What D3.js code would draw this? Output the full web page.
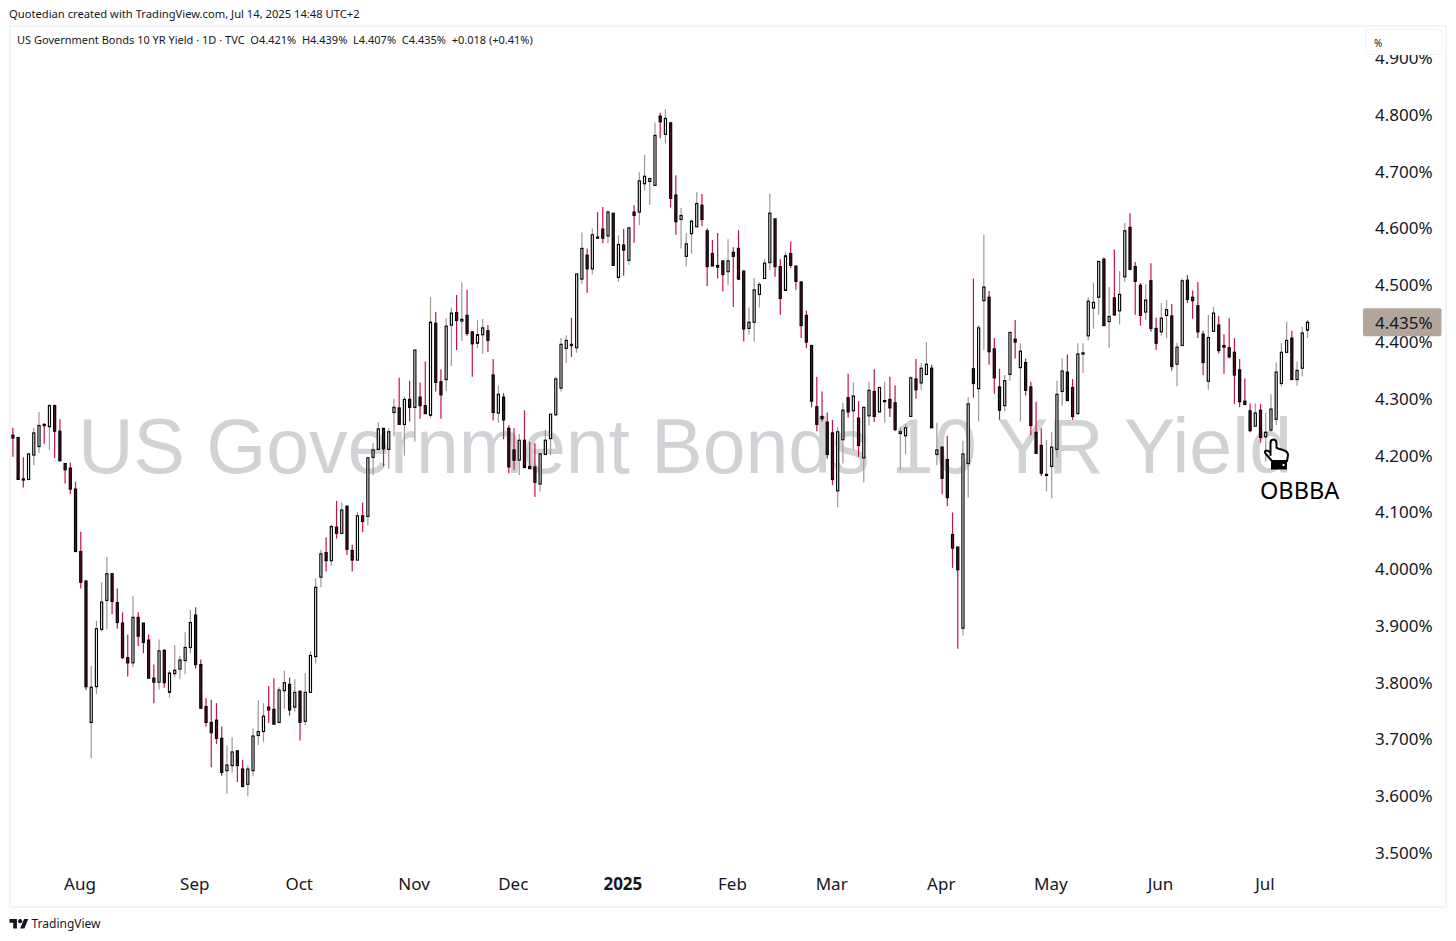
<!DOCTYPE html>
<html>
<head>
<meta charset="utf-8">
<title>US Government Bonds 10 YR Yield</title>
<script src="https://cdn.jsdelivr.net/npm/d3@7"></script>
<style>
  html, body { margin: 0; padding: 0; background: #fff; }
  svg { display: block; }
  text { font-family: "Noto Sans", sans-serif; fill: #131722; }
</style>
</head>
<body>
<svg id="chart" width="1456" height="941"></svg>
<script>
// Daily candles as [open, high, low, close], one array per month
const jul24 = [
  [4.236, 4.249, 4.198, 4.231], [4.232, 4.233, 4.157, 4.158], [4.159, 4.197, 4.144, 4.157], [4.158, 4.204, 4.157, 4.203],
  [4.201, 4.249, 4.183, 4.240], [4.216, 4.277, 4.205, 4.253], [4.255, 4.257, 4.221, 4.253], [4.251, 4.291, 4.210, 4.288],
  [4.288, 4.290, 4.196, 4.243], [4.243, 4.264, 4.191, 4.191], [4.186, 4.186, 4.151, 4.175], [4.178, 4.188, 4.132, 4.141],
  [4.141, 4.154, 4.031, 4.031],
];
const aug24 = [
  [4.031, 4.066, 3.966, 3.977], [3.979, 3.981, 3.787, 3.793], [3.730, 3.830, 3.667, 3.792], [3.793, 3.909, 3.780, 3.895],
  [3.894, 3.977, 3.890, 3.942], [3.945, 4.022, 3.894, 3.992], [3.992, 3.992, 3.921, 3.943], [3.941, 3.966, 3.895, 3.906],
  [3.905, 3.924, 3.842, 3.844], [3.844, 3.885, 3.811, 3.835], [3.835, 3.953, 3.827, 3.915], [3.915, 3.924, 3.864, 3.882],
  [3.905, 3.905, 3.852, 3.871], [3.875, 3.885, 3.807, 3.808], [3.808, 3.832, 3.764, 3.801], [3.801, 3.876, 3.788, 3.856],
  [3.857, 3.859, 3.791, 3.800], [3.783, 3.822, 3.774, 3.817], [3.816, 3.866, 3.810, 3.822], [3.824, 3.847, 3.806, 3.840],
  [3.839, 3.889, 3.815, 3.862], [3.862, 3.928, 3.852, 3.906],
];
const sep24 = [
  [3.919, 3.933, 3.825, 3.832], [3.832, 3.841, 3.754, 3.755], [3.758, 3.773, 3.723, 3.730], [3.730, 3.770, 3.651, 3.712],
  [3.734, 3.764, 3.692, 3.702], [3.702, 3.723, 3.636, 3.642], [3.645, 3.689, 3.605, 3.655], [3.654, 3.704, 3.642, 3.678],
  [3.680, 3.680, 3.625, 3.654], [3.648, 3.664, 3.616, 3.617], [3.621, 3.654, 3.600, 3.648], [3.645, 3.719, 3.635, 3.706],
  [3.707, 3.769, 3.690, 3.714], [3.714, 3.764, 3.696, 3.741], [3.757, 3.794, 3.729, 3.752], [3.753, 3.808, 3.726, 3.727],
  [3.730, 3.792, 3.729, 3.787], [3.786, 3.821, 3.754, 3.800], [3.797, 3.809, 3.742, 3.752], [3.757, 3.806, 3.749, 3.783],
];
const oct24 = [
  [3.785, 3.785, 3.698, 3.730], [3.732, 3.817, 3.725, 3.783], [3.783, 3.855, 3.783, 3.848], [3.846, 3.984, 3.834, 3.968],
  [3.986, 4.034, 3.968, 4.027], [4.029, 4.056, 3.996, 4.015], [4.015, 4.078, 4.006, 4.075], [4.074, 4.120, 4.054, 4.063],
  [4.063, 4.117, 4.062, 4.104], [4.111, 4.111, 4.025, 4.035], [4.033, 4.043, 3.996, 4.016], [4.016, 4.101, 4.016, 4.094],
  [4.094, 4.117, 4.065, 4.084], [4.093, 4.198, 4.077, 4.196], [4.197, 4.222, 4.166, 4.210], [4.211, 4.259, 4.210, 4.247],
  [4.248, 4.248, 4.181, 4.212], [4.211, 4.248, 4.177, 4.242], [4.276, 4.300, 4.234, 4.285], [4.284, 4.337, 4.255, 4.255],
  [4.255, 4.304, 4.200, 4.299], [4.299, 4.332, 4.260, 4.285],
];
const nov24 = [
  [4.285, 4.386, 4.225, 4.386], [4.303, 4.329, 4.265, 4.288], [4.288, 4.366, 4.274, 4.274], [4.271, 4.479, 4.266, 4.435],
  [4.433, 4.453, 4.313, 4.329], [4.330, 4.352, 4.265, 4.307], [4.334, 4.442, 4.314, 4.428], [4.430, 4.461, 4.358, 4.451],
  [4.452, 4.483, 4.386, 4.438], [4.437, 4.505, 4.402, 4.440], [4.447, 4.492, 4.411, 4.415], [4.418, 4.418, 4.339, 4.397],
  [4.398, 4.439, 4.389, 4.413], [4.413, 4.441, 4.379, 4.425], [4.420, 4.430, 4.383, 4.403], [4.342, 4.370, 4.262, 4.276],
  [4.275, 4.324, 4.258, 4.308], [4.303, 4.310, 4.229, 4.263], [4.248, 4.254, 4.169, 4.180],
];
const dec24 = [
  [4.210, 4.248, 4.175, 4.192], [4.192, 4.238, 4.166, 4.227], [4.227, 4.280, 4.178, 4.179], [4.181, 4.224, 4.177, 4.177],
  [4.180, 4.222, 4.127, 4.153], [4.150, 4.204, 4.137, 4.203], [4.202, 4.246, 4.201, 4.227], [4.230, 4.273, 4.201, 4.273],
  [4.272, 4.339, 4.270, 4.335], [4.319, 4.407, 4.313, 4.396], [4.389, 4.412, 4.363, 4.403], [4.396, 4.443, 4.374, 4.394],
  [4.390, 4.520, 4.381, 4.520], [4.511, 4.593, 4.502, 4.565], [4.553, 4.565, 4.487, 4.529], [4.529, 4.600, 4.519, 4.589],
  [4.585, 4.629, 4.583, 4.583], [4.599, 4.638, 4.574, 4.583], [4.587, 4.632, 4.574, 4.629], [4.627, 4.627, 4.535, 4.535],
  [4.514, 4.588, 4.506, 4.572],
];
const jan25 = [
  [4.571, 4.599, 4.517, 4.562], [4.544, 4.603, 4.536, 4.601], [4.629, 4.641, 4.575, 4.623], [4.629, 4.699, 4.606, 4.684],
  [4.679, 4.730, 4.667, 4.692], [4.683, 4.688, 4.642, 4.688], [4.676, 4.787, 4.676, 4.764], [4.798, 4.804, 4.759, 4.788],
  [4.766, 4.810, 4.750, 4.794], [4.786, 4.788, 4.637, 4.653], [4.659, 4.694, 4.589, 4.612], [4.616, 4.636, 4.565, 4.623],
  [4.551, 4.592, 4.533, 4.573], [4.591, 4.616, 4.556, 4.613], [4.603, 4.664, 4.603, 4.644], [4.641, 4.661, 4.604, 4.616],
  [4.596, 4.600, 4.499, 4.533], [4.556, 4.580, 4.534, 4.534], [4.535, 4.592, 4.512, 4.532], [4.543, 4.543, 4.489, 4.519],
  [4.524, 4.581, 4.501, 4.543],
];
const feb25 = [
  [4.558, 4.567, 4.462, 4.551], [4.565, 4.597, 4.509, 4.511], [4.525, 4.526, 4.401, 4.423], [4.424, 4.461, 4.413, 4.435],
  [4.435, 4.513, 4.401, 4.492], [4.484, 4.506, 4.461, 4.501], [4.512, 4.546, 4.512, 4.539], [4.540, 4.661, 4.527, 4.627],
  [4.617, 4.617, 4.515, 4.533], [4.533, 4.546, 4.448, 4.477], [4.491, 4.559, 4.491, 4.552], [4.556, 4.577, 4.530, 4.535],
  [4.534, 4.534, 4.492, 4.507], [4.506, 4.506, 4.407, 4.429], [4.447, 4.455, 4.389, 4.400], [4.394, 4.394, 4.285, 4.296],
  [4.286, 4.339, 4.243, 4.255], [4.269, 4.313, 4.260, 4.265], [4.259, 4.276, 4.195, 4.202],
];
const mar25 = [
  [4.240, 4.263, 4.148, 4.158], [4.138, 4.251, 4.109, 4.242], [4.228, 4.293, 4.186, 4.280], [4.302, 4.344, 4.267, 4.277],
  [4.279, 4.329, 4.210, 4.305], [4.266, 4.296, 4.198, 4.218], [4.196, 4.286, 4.153, 4.285], [4.270, 4.330, 4.253, 4.315],
  [4.313, 4.352, 4.259, 4.269], [4.277, 4.320, 4.276, 4.320], [4.295, 4.330, 4.258, 4.297], [4.299, 4.339, 4.268, 4.284],
  [4.293, 4.324, 4.243, 4.246], [4.239, 4.250, 4.175, 4.242], [4.235, 4.256, 4.202, 4.249], [4.269, 4.340, 4.268, 4.337],
  [4.335, 4.370, 4.300, 4.316], [4.328, 4.363, 4.316, 4.354], [4.343, 4.400, 4.343, 4.361], [4.354, 4.360, 4.249, 4.249],
  [4.202, 4.258, 4.183, 4.210],
];
const apr25 = [
  [4.215, 4.215, 4.132, 4.160], [4.193, 4.235, 4.111, 4.126], [4.061, 4.100, 4.002, 4.037], [4.039, 4.039, 3.860, 3.999],
  [3.896, 4.226, 3.883, 4.203], [4.186, 4.303, 4.126, 4.291], [4.353, 4.512, 4.302, 4.327], [4.318, 4.430, 4.260, 4.425],
  [4.473, 4.589, 4.386, 4.497], [4.479, 4.490, 4.360, 4.383], [4.388, 4.407, 4.309, 4.337], [4.321, 4.353, 4.263, 4.280],
  [4.288, 4.342, 4.278, 4.332], [4.343, 4.417, 4.332, 4.417], [4.405, 4.439, 4.371, 4.400], [4.355, 4.398, 4.260, 4.384],
  [4.364, 4.371, 4.306, 4.315], [4.321, 4.330, 4.236, 4.253], [4.241, 4.295, 4.203, 4.204], [4.218, 4.248, 4.164, 4.169],
  [4.165, 4.228, 4.137, 4.167],
];
const may25 = [
  [4.181, 4.241, 4.125, 4.215], [4.211, 4.332, 4.197, 4.308], [4.313, 4.371, 4.288, 4.349], [4.347, 4.378, 4.297, 4.297],
  [4.320, 4.335, 4.263, 4.269], [4.274, 4.398, 4.272, 4.379], [4.379, 4.398, 4.346, 4.381], [4.411, 4.479, 4.403, 4.472],
  [4.460, 4.505, 4.424, 4.470], [4.479, 4.543, 4.448, 4.542], [4.546, 4.549, 4.429, 4.429], [4.436, 4.497, 4.390, 4.445],
  [4.478, 4.563, 4.446, 4.448], [4.455, 4.525, 4.431, 4.484], [4.515, 4.610, 4.506, 4.596], [4.602, 4.627, 4.528, 4.528],
  [4.533, 4.541, 4.448, 4.507], [4.500, 4.504, 4.429, 4.447], [4.453, 4.502, 4.439, 4.474], [4.508, 4.539, 4.418, 4.424],
  [4.424, 4.443, 4.386, 4.398],
];
const jun25 = [
  [4.418, 4.469, 4.411, 4.442], [4.447, 4.474, 4.407, 4.457], [4.446, 4.467, 4.350, 4.357], [4.361, 4.399, 4.322, 4.391],
  [4.394, 4.512, 4.393, 4.508], [4.509, 4.518, 4.469, 4.475], [4.479, 4.491, 4.441, 4.473], [4.464, 4.506, 4.407, 4.418],
  [4.414, 4.420, 4.342, 4.364], [4.331, 4.448, 4.316, 4.408], [4.419, 4.462, 4.419, 4.451], [4.430, 4.446, 4.380, 4.385],
  [4.394, 4.414, 4.344, 4.391], [4.390, 4.442, 4.371, 4.374], [4.382, 4.407, 4.291, 4.342], [4.351, 4.370, 4.285, 4.295],
  [4.296, 4.336, 4.290, 4.290], [4.279, 4.292, 4.241, 4.244], [4.252, 4.292, 4.251, 4.275], [4.280, 4.291, 4.223, 4.232],
];
const jul25 = [
  [4.233, 4.276, 4.189, 4.241], [4.245, 4.308, 4.242, 4.282], [4.264, 4.364, 4.254, 4.347], [4.327, 4.398, 4.322, 4.382],
  [4.382, 4.436, 4.382, 4.403], [4.407, 4.420, 4.333, 4.334], [4.334, 4.366, 4.323, 4.350], [4.354, 4.427, 4.340, 4.416],
  [4.421, 4.439, 4.407, 4.435],
];

const monthGroups = [jul24, aug24, sep24, oct24, nov24, dec24, jan25, feb25, mar25, apr25, may25, jun25, jul25];
const monthLabels = [null, "Aug", "Sep", "Oct", "Nov", "Dec", "2025", "Feb", "Mar", "Apr", "May", "Jun", "Jul"];
const yieldTicks = [3.5, 3.6, 3.7, 3.8, 3.9, 4.0, 4.1, 4.2, 4.3, 4.4, 4.5, 4.6, 4.7, 4.8, 4.9];
const lastPrice = 4.435;

const candles = monthGroups.flat().map(([open, high, low, close], i) => ({ i, open, high, low, close }));

// Index of the first candle of each month, for the time axis
let running = 0;
const monthStarts = new Map();
monthGroups.forEach((group, m) => {
  if (monthLabels[m]) monthStarts.set(running, monthLabels[m]);
  running += group.length;
});

const svg = d3.select("#chart");

const x = d3.scaleLinear().domain([0, candles.length - 1]).range([12.9, 1307.5]);
const y = d3.scaleLinear().domain([3.5, 4.8]).range([853, 115]);

// Pane frame
svg.append("rect")
  .attr("x", 10).attr("y", 26)
  .attr("width", 1436).attr("height", 881)
  .attr("fill", "#fff").attr("stroke", "#f0f1f4").attr("stroke-width", 1.5);

// Watermark sits behind the candles
svg.append("text")
  .attr("x", 685).attr("y", 472.5)
  .attr("text-anchor", "middle")
  .style("font-family", "'Liberation Sans', Arial, sans-serif")
  .style("font-size", "77px")
  .style("fill", "#d0d2d6")
  .text("US Government Bonds 10 YR Yield");

// Header and legend text
svg.append("text")
  .attr("x", 9).attr("y", 18)
  .style("font-size", "11.2px")
  .text("Quotedian created with TradingView.com, Jul 14, 2025 14:48 UTC+2");
svg.append("text")
  .attr("x", 17).attr("y", 44)
  .style("font-size", "11px")
  .attr("xml:space", "preserve")
  .text("US Government Bonds 10 YR Yield · 1D · TVC  O4.421%  H4.439%  L4.407%  C4.435%  +0.018 (+0.41%)");

// Wicks
svg.append("g")
  .selectAll("line")
  .data(candles)
  .join("line")
  .attr("x1", (d) => x(d.i))
  .attr("x2", (d) => x(d.i))
  .attr("y1", (d) => y(d.high))
  .attr("y2", (d) => y(d.low))
  .attr("stroke", (d) => (d.close >= d.open ? "#a2978c" : "#c4124f"))
  .attr("stroke-width", 1.2);

// Bodies
const bodyWidth = 2.1;
svg.append("g")
  .selectAll("rect")
  .data(candles)
  .join("rect")
  .attr("x", (d) => x(d.i) - bodyWidth / 2)
  .attr("y", (d) => y(Math.max(d.open, d.close)))
  .attr("width", bodyWidth)
  .attr("height", (d) => Math.max(1, Math.abs(y(d.open) - y(d.close))))
  .attr("fill", (d) => (d.close >= d.open ? "#fff" : "#5e0f2a"))
  .attr("stroke", "#000")
  .attr("stroke-width", 1.15);

// Price axis
const yAxis = svg.append("g")
  .attr("transform", "translate(1375,0)")
  .call(d3.axisRight(y).tickValues(yieldTicks).tickSize(0).tickPadding(0).tickFormat((d) => `${d.toFixed(3)}%`));
yAxis.select(".domain").remove();
yAxis.selectAll("text")
  .style("font-family", "'Noto Sans', sans-serif")
  .style("font-size", "17px")
  .style("fill", "#131722");

// Time axis
const xAxis = svg.append("g")
  .attr("transform", "translate(-1.3,873)")
  .call(d3.axisBottom(x).tickValues([...monthStarts.keys()]).tickSize(0).tickPadding(0).tickFormat((d) => monthStarts.get(d)));
xAxis.select(".domain").remove();
xAxis.selectAll("text")
  .attr("y", 0)
  .attr("dy", "1em")
  .style("font-family", "'Noto Sans', sans-serif")
  .style("font-size", "17px")
  .style("font-weight", (d) => (monthStarts.get(d) === "2025" ? "700" : "400"))
  .style("fill", "#131722");

// Last price tag
svg.append("rect")
  .attr("x", 1363).attr("y", y(lastPrice) - 14)
  .attr("width", 78.5).attr("height", 28)
  .attr("rx", 2)
  .attr("fill", "#b2a59a");
svg.append("text")
  .attr("x", 1375).attr("y", y(lastPrice) + 1)
  .attr("dy", "0.35em")
  .style("font-size", "17px")
  .text(`${lastPrice.toFixed(3)}%`);

// Scale mode box covers the top tick
svg.append("rect")
  .attr("x", 1366).attr("y", 29.5)
  .attr("width", 76).attr("height", 25)
  .attr("rx", 4)
  .attr("fill", "#fff").attr("stroke", "#f0f1f4");
svg.append("text")
  .attr("x", 1374).attr("y", 47)
  .style("font-size", "10px")
  .text("%");

// Annotation: pointing hand and label
const hand = svg.append("g");
hand.append("path")
  .attr("d", "M1270.5,455 L1270.5,443 Q1270.5,439.5 1273.5,439.5 Q1276.5,439.5 1276.5,443 L1276.5,448 L1283,450 Q1288,451.5 1288,455 L1287,461 L1272,461 L1265.5,453.5 Q1264,451 1266.5,450.5 Q1268.5,450.5 1270.5,453 Z")
  .attr("fill", "#fff")
  .attr("stroke", "#000")
  .attr("stroke-width", 2)
  .attr("stroke-linejoin", "round");
hand.append("rect")
  .attr("x", 1271).attr("y", 462)
  .attr("width", 16).attr("height", 7.5)
  .attr("fill", "#000");
hand.append("rect")
  .attr("x", 1282.5).attr("y", 464)
  .attr("width", 2).attr("height", 2)
  .attr("fill", "#fff");
svg.append("text")
  .attr("x", 1260).attr("y", 499)
  .style("font-size", "23.5px")
  .style("fill", "#000")
  .text("OBBBA");

// TradingView footer
const logo = svg.append("g").attr("transform", "translate(9.5,918.5) scale(0.53)");
logo.append("path").attr("d", "M14 19H7V8H0V1h14v18zM28 19h-8l7.5-18h8L28 19z").attr("fill", "#131722");
logo.append("circle").attr("cx", 20).attr("cy", 5).attr("r", 4).attr("fill", "#131722");
svg.append("text")
  .attr("x", 31.5).attr("y", 928)
  .style("font-size", "12px")
  .text("TradingView");
</script>
</body>
</html>
